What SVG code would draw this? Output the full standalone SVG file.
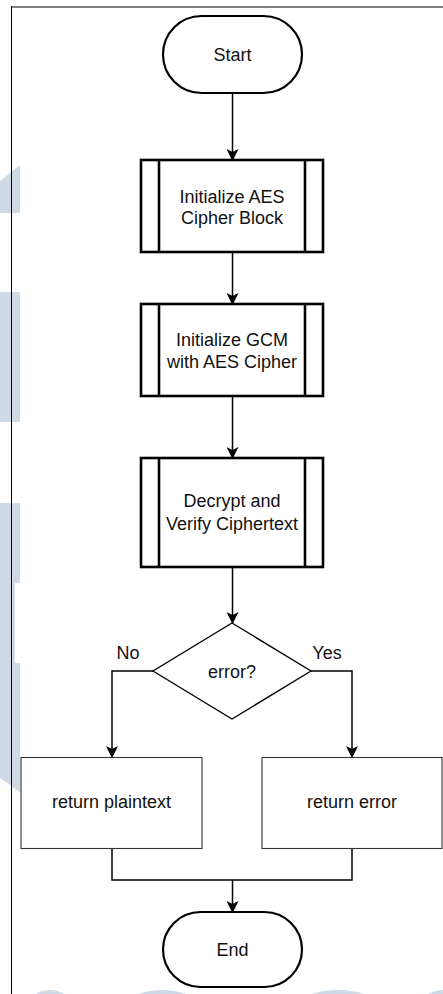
<svg xmlns="http://www.w3.org/2000/svg" width="443" height="994" viewBox="0 0 443 994">
  <style>
    .lbl { font-family: "Liberation Sans", Arial, sans-serif; font-size: 18px; fill: #111; text-anchor: middle; dominant-baseline: central; }
    .term { fill: #fff; stroke: #000; stroke-width: 2.2; }
    .proc { fill: #fff; stroke: #000; stroke-width: 2.6; }
    .plain { fill: #fff; stroke: #333; stroke-width: 1.1; }
    .dec { fill: #fff; stroke: #000; stroke-width: 1.3; }
    .edge { fill: none; stroke: #000; stroke-width: 1.5; }
    .wm { fill: #cfdae4; }
  </style>
  <defs>
    <marker id="arrow" viewBox="0 0 12 12" refX="11" refY="6" markerWidth="12" markerHeight="12" markerUnits="userSpaceOnUse" orient="auto">
      <path d="M0,0 L12,6 L0,12 L3,6 Z" fill="#000"/>
    </marker>
  </defs>

  <rect width="443" height="994" fill="#fff"/>

  <!-- faint background shapes -->
  <g id="backdrop">
    <polygon class="wm" points="0,181 20,165 20,213 0,213"/>
    <rect class="wm" x="0" y="292" width="20" height="130"/>
    <polygon class="wm" points="0,503 20,503 20,583 15,583 15,663 20,663 20,792 0,778"/>
    <ellipse class="wm" cx="50" cy="1006" rx="22" ry="16"/>
    <ellipse class="wm" cx="162" cy="1006" rx="36" ry="16"/>
    <ellipse class="wm" cx="338" cy="1006" rx="40" ry="16"/>
    <ellipse class="wm" cx="445" cy="1006" rx="26" ry="16"/>
  </g>

  <!-- page frame -->
  <g id="frame">
    <line x1="11" y1="7" x2="443" y2="7" stroke="#808080" stroke-width="2"/>
    <line x1="11.5" y1="6" x2="11.5" y2="994" stroke="#000" stroke-width="1"/>
  </g>

  <g id="connectors">
    <line class="edge" x1="232.5" y1="93" x2="232.5" y2="160" marker-end="url(#arrow)"/>
    <line class="edge" x1="232.5" y1="252" x2="232.5" y2="304" marker-end="url(#arrow)"/>
    <line class="edge" x1="232.5" y1="396" x2="232.5" y2="458" marker-end="url(#arrow)"/>
    <line class="edge" x1="232.5" y1="567" x2="232.5" y2="623" marker-end="url(#arrow)"/>
    <polyline class="edge" points="153,671 112,671 112,757" marker-end="url(#arrow)"/>
    <polyline class="edge" points="311,671 352,671 352,757" marker-end="url(#arrow)"/>
    <polyline class="edge" points="112,849 112,880 352,880 352,849"/>
    <line class="edge" x1="232.5" y1="880" x2="232.5" y2="912" marker-end="url(#arrow)"/>
    <text class="lbl" x="128" y="653">No</text>
    <text class="lbl" x="327" y="653">Yes</text>
  </g>

  <g id="start">
    <rect class="term" x="163" y="16" width="139" height="77" rx="38.5"/>
    <text class="lbl" x="232.5" y="55">Start</text>
  </g>

  <g id="init-aes">
    <rect class="proc" x="141" y="160" width="182" height="92"/>
    <line class="proc" x1="159" y1="160" x2="159" y2="252"/>
    <line class="proc" x1="305" y1="160" x2="305" y2="252"/>
    <text class="lbl" x="232" y="196.5">Initialize AES</text>
    <text class="lbl" x="232" y="218">Cipher Block</text>
  </g>

  <g id="init-gcm">
    <rect class="proc" x="141" y="304" width="182" height="92"/>
    <line class="proc" x1="159" y1="304" x2="159" y2="396"/>
    <line class="proc" x1="305" y1="304" x2="305" y2="396"/>
    <text class="lbl" x="232" y="340">Initialize GCM</text>
    <text class="lbl" x="232" y="361.5">with AES Cipher</text>
  </g>

  <g id="decrypt">
    <rect class="proc" x="141" y="458" width="182" height="109"/>
    <line class="proc" x1="159" y1="458" x2="159" y2="567"/>
    <line class="proc" x1="305" y1="458" x2="305" y2="567"/>
    <text class="lbl" x="232" y="501">Decrypt and</text>
    <text class="lbl" x="232" y="523.5">Verify Ciphertext</text>
  </g>

  <g id="error-check">
    <polygon class="dec" points="232,623 311,671 232,719 153,671"/>
    <text class="lbl" x="232" y="672">error?</text>
  </g>

  <g id="return-plaintext">
    <rect class="plain" x="21" y="757.5" width="181" height="91"/>
    <text class="lbl" x="111.5" y="802">return plaintext</text>
  </g>

  <g id="return-error">
    <rect class="plain" x="262" y="757.5" width="180" height="91"/>
    <text class="lbl" x="352" y="802">return error</text>
  </g>

  <g id="end">
    <rect class="term" x="163" y="912" width="139" height="75" rx="37.5"/>
    <text class="lbl" x="232.5" y="950">End</text>
  </g>
</svg>
